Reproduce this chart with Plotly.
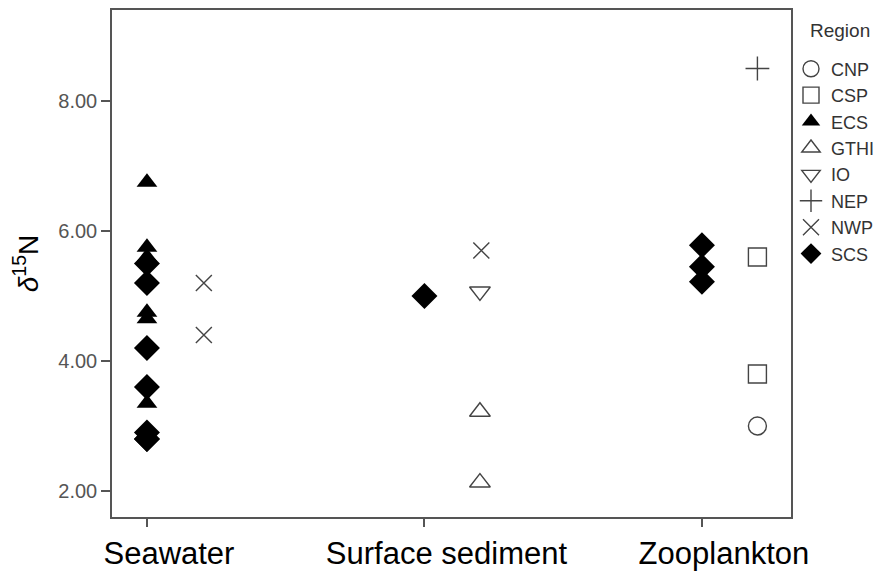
import plotly.graph_objects as go

categories = ["Seawater", "Surface sediment", "Zooplankton"]
y_ticks = [2, 4, 6, 8]
y_tick_labels = ["2.00", "4.00", "6.00", "8.00"]

regions = ["CNP", "CSP", "ECS", "GTHI", "IO", "NEP", "NWP", "SCS"]

cnp_cat = ["Zooplankton"]
cnp_val = [3.0]
csp_cat = ["Zooplankton", "Zooplankton"]
csp_val = [5.6, 3.8]
ecs_cat = ["Seawater"] * 6
ecs_val = [6.75, 5.75, 5.6, 4.75, 4.65, 3.35]
gthi_cat = ["Surface sediment", "Surface sediment"]
gthi_val = [3.22, 2.13]
io_cat = ["Surface sediment"]
io_val = [5.07]
nep_cat = ["Zooplankton"]
nep_val = [8.5]
nwp_cat = ["Seawater", "Seawater", "Surface sediment"]
nwp_val = [5.2, 4.4, 5.7]
scs_cat = ["Seawater"] * 7 + ["Surface sediment"] + ["Zooplankton"] * 3
scs_val = [5.5, 5.2, 4.2, 3.6, 2.9, 2.8, 2.8, 5.0, 5.78, 5.45, 5.22]

data = {
    "CNP": (cnp_cat, cnp_val),
    "CSP": (csp_cat, csp_val),
    "ECS": (ecs_cat, ecs_val),
    "GTHI": (gthi_cat, gthi_val),
    "IO": (io_cat, io_val),
    "NEP": (nep_cat, nep_val),
    "NWP": (nwp_cat, nwp_val),
    "SCS": (scs_cat, scs_val),
}

# styling (dodge offset, symbol, size)
dodge = {"CNP": 0.2, "CSP": 0.2, "ECS": 0.0, "GTHI": 0.2, "IO": 0.2,
         "NEP": 0.2, "NWP": 0.205, "SCS": 0.0}
open_line = dict(width=1.4, color="#444444")
style = {
    "CNP": dict(symbol="circle-open", size=18, color="#444444", line=open_line),
    "CSP": dict(symbol="square-open", size=18, color="#444444", line=open_line),
    "ECS": dict(symbol="triangle-up", size=18, color="black", line=dict(width=0)),
    "GTHI": dict(symbol="triangle-up-open", size=18, color="#444444", line=open_line),
    "IO": dict(symbol="triangle-down-open", size=18, color="#444444", line=open_line),
    "NEP": dict(symbol="cross-thin", size=17, color="#444444", line=open_line),
    "NWP": dict(symbol="x-thin", size=16, color="#444444", line=open_line),
    "SCS": dict(symbol="diamond", size=20, color="black", line=dict(width=0)),
}

fig = go.Figure()
for r in regions:
    cats, vals = data[r]
    xs = [categories.index(c) + dodge[r] for c in cats]
    fig.add_trace(go.Scatter(x=xs, y=vals, mode="markers", name=r,
                             marker=style[r]))

font_family = "Liberation Sans, Arial, sans-serif"
fig.update_layout(
    width=877, height=563,
    margin=dict(l=104, r=94, t=2, b=54, autoexpand=False),
    plot_bgcolor="white", paper_bgcolor="white",
    font=dict(family=font_family, color="#555555"),
    showlegend=True,
    legend=dict(
        x=1.0, xanchor="left", y=0.92, yanchor="top",
        font=dict(size=18, color="#333333"),
        itemsizing="trace", tracegroupgap=0,
        bgcolor="rgba(0,0,0,0)",
    ),
    annotations=[dict(
        text="Region", xref="paper", yref="paper", x=1.025, y=0.96,
        xanchor="left", yanchor="middle", showarrow=False,
        font=dict(size=19, color="#333333"),
    )],
    xaxis=dict(
        range=[-0.126, 2.321], automargin=False,
        tickmode="array", tickvals=[0, 1, 2], ticktext=categories,
        tickfont=dict(size=31, color="black"), ticklabelshift=22,
        ticks="outside", ticklen=8, tickcolor="#555555", tickwidth=1.5,
        showline=True, linecolor="#555555", linewidth=1.5, mirror=True,
        showgrid=False, zeroline=False,
    ),
    yaxis=dict(
        range=[1.6, 9.4], automargin=False,
        tickmode="array", tickvals=y_ticks, ticktext=y_tick_labels,
        tickfont=dict(size=20, color="#555555"),
        ticks="outside", ticklen=9, tickcolor="#555555", tickwidth=1.5,
        showline=True, linecolor="#555555", linewidth=1.5, mirror=True,
        showgrid=False, zeroline=False,
        title=dict(text="<i>δ</i><sup>15</sup>N", font=dict(size=28, color="black"), standoff=12),
    ),
)

fig.write_html("out.html")
